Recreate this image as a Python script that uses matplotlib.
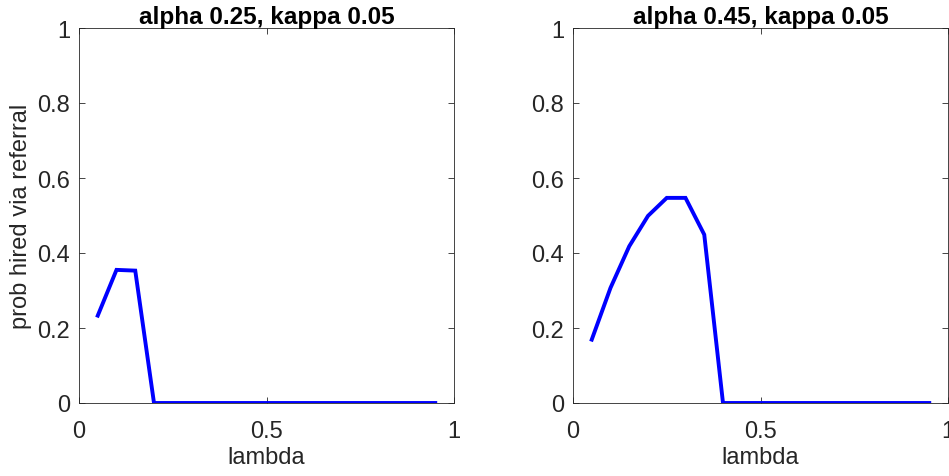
import matplotlib

matplotlib.use("Agg")
import matplotlib.pyplot as plt

plt.rcParams["font.family"] = ["Liberation Sans", "DejaVu Sans"]

# lambda grid, 0.05 .. 0.95
lam = [0.05, 0.10, 0.15, 0.20, 0.25, 0.30, 0.35, 0.40, 0.45, 0.50,
       0.55, 0.60, 0.65, 0.70, 0.75, 0.80, 0.85, 0.90, 0.95]

# prob hired via referral
p_alpha025 = [0.233, 0.355, 0.353, 0, 0, 0, 0, 0, 0, 0,
              0, 0, 0, 0, 0, 0, 0, 0, 0]
p_alpha045 = [0.169, 0.307, 0.418, 0.499, 0.547, 0.547, 0.449, 0, 0, 0,
              0, 0, 0, 0, 0, 0, 0, 0, 0]

titles = ["alpha 0.25, kappa 0.05", "alpha 0.45, kappa 0.05"]

W, H = 949, 477
fig = plt.figure(figsize=(W / 100, H / 100), dpi=100)

ax_w, ax_h = 375 / W, 375 / H
bottom = 1 - 404 / H
lefts = [79 / W, 573 / W]
txt = "#262626"

for i, (x0, series, title) in enumerate(zip(lefts, [p_alpha025, p_alpha045], titles)):
    ax = fig.add_axes([x0, bottom, ax_w, ax_h])
    ax.plot(lam, series, color="#0000ff", linewidth=2.8, solid_joinstyle="miter")
    ax.set_xlim(0, 1)
    ax.set_ylim(0, 1)
    ax.set_xticks([0, 0.5, 1])
    ax.set_xticklabels(["0", "0.5", "1"])
    ax.set_yticks([0, 0.2, 0.4, 0.6, 0.8, 1])
    ax.set_yticklabels(["0", "0.2", "0.4", "0.6", "0.8", "1"])
    ax.tick_params(direction="in", top=True, right=True, length=4, width=0.6,
                   colors=txt, labelsize=17)
    ax.tick_params(axis="x", pad=12)
    ax.tick_params(axis="y", pad=6.5)
    for sp in ax.spines.values():
        sp.set_color(txt)
        sp.set_linewidth(0.6)
    ax.set_xlabel("lambda", fontsize=17, color=txt, labelpad=3)
    if i == 0:
        ax.set_ylabel("prob hired via referral", fontsize=17, color=txt, labelpad=4)
    ax.set_title(title, fontsize=17.5, fontweight="bold", pad=3.5)

fig.savefig("out.png", dpi=100)
